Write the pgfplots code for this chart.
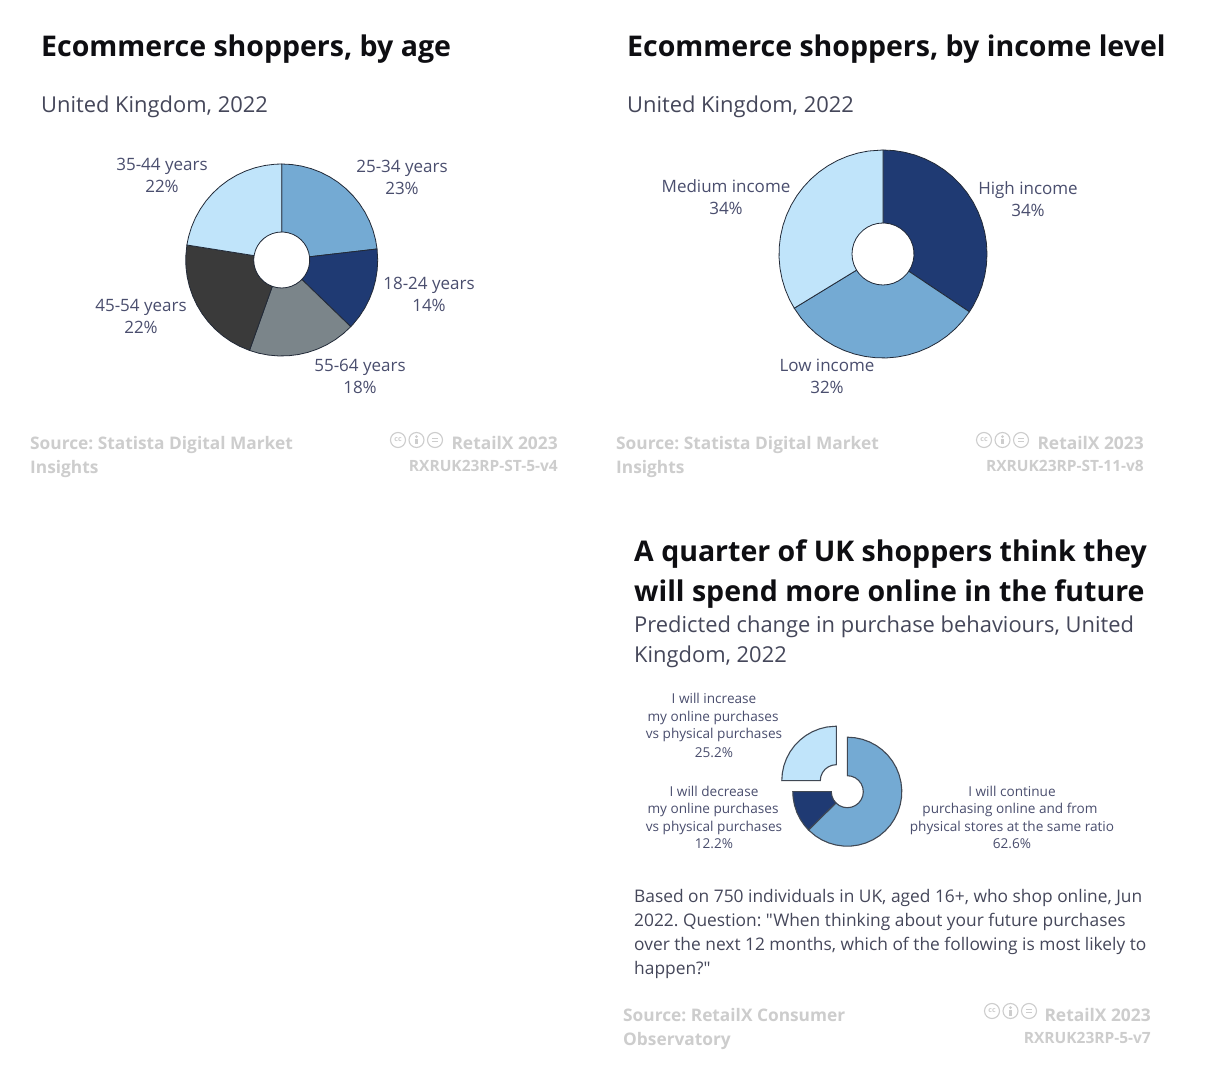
\documentclass[border=0pt]{standalone}
\usepackage{fontspec}
\setmainfont{Open Sans}
\newfontfamily\osQ{Open Sans}
\newcommand{\osS}{\bfseries}
\newcommand{\osL}{\normalfont}
\usepackage{pgfplots}
\usepgfplotslibrary{polar}
\pgfplotsset{compat=1.18}
\definecolor{cLight}{HTML}{C0E4FA}
\definecolor{cMid}{HTML}{74AAD3}
\definecolor{cNavy}{HTML}{1F3A73}
\definecolor{cChar}{HTML}{3A3A3A}
\definecolor{cGrey}{HTML}{7B858A}
\definecolor{cEdge}{HTML}{222A38}
\definecolor{cEdgeB}{HTML}{404854}
\definecolor{cText}{HTML}{4A4E6E}
\definecolor{cSrc}{HTML}{CDCDCD}
\definecolor{cTitle}{HTML}{0E0E12}
\definecolor{cSub}{HTML}{45475A}
\pgfplotsset{donut/.style={scale only axis,hide axis,clip=false,xmin=0,xmax=360,ymin=0,anchor=center}}
\newcommand{\TITLE}[3]{\node[anchor=base west,inner sep=0pt,text=cTitle] at (#1,{1079-#2}) {\fontsize{28.5}{36}\selectfont\osS #3};}
\newcommand{\SUB}[3]{\node[anchor=base west,inner sep=0pt,text=cSub] at (#1,{1079-#2}) {\fontsize{21.9}{30}\selectfont\osL #3};}
\newcommand{\LAB}[3]{\node[anchor=base,inner sep=0pt,text=cText] at (#1,{1079-#2}) {\fontsize{17}{20}\selectfont #3};}
\newcommand{\SM}[3]{\node[anchor=base,inner sep=0pt,text=cText] at (#1,{1079-#2}) {\fontsize{13.6}{18}\selectfont #3};}
\newcommand{\SRC}[3]{\node[anchor=base west,inner sep=0pt,text=cSrc] at (#1,{1079-#2}) {\fontsize{17.3}{24}\selectfont\osS #3};}
\newcommand{\NOTE}[2]{\node[anchor=base west,inner sep=0pt,text=cSub] at (634,#1) {\fontsize{17.35}{22}\selectfont\osQ #2};}
\newcommand{\CC}[2]{%
 \begin{scope}[shift={(#1,{1080-#2})},draw=cSrc,line width=1.1pt]
 \draw (0,0) circle (7.5pt);
 \node[text=cSrc,inner sep=0pt] at (0,0) {\fontsize{7}{7}\selectfont\osS cc};
 \draw (18.5pt,0) circle (7.5pt);
 \fill[cSrc] (18.5pt,3.4pt) circle (1.5pt);
 \fill[cSrc] (17pt,1.4pt) rectangle (20pt,-4.5pt);
 \draw (37pt,0) circle (7.5pt);
 \draw[line width=1pt] (34pt,1.5pt) -- (40pt,1.5pt) (34pt,-1.5pt) -- (40pt,-1.5pt);
 \end{scope}}
\newcommand{\MARK}[5]{%
 \CC{#1}{#2}
 \node[anchor=base east,inner sep=0pt,text=cSrc] at (#3,{1079-#4}) {\fontsize{17.4}{24}\selectfont\osS RetailX 2023};
 \node[anchor=base east,inner sep=0pt,text=cSrc] at (#3,{1079-#4-22}) {\fontsize{15.5}{20}\selectfont\osS #5};}
\begin{document}
\frenchspacing
\begin{tikzpicture}[x=1pt,y=1pt]
\fill[white] (0,0) rectangle (1227,1080);
\path[use as bounding box] (0,0) rectangle (1227,1080);

%% ---------- chart 1 ----------
\begin{polaraxis}[donut,at={(281.7pt,820pt)},width=192pt,height=192pt,ymax=96]
\addplot[fill=cMid,draw=cEdge,line width=0.8pt] coordinates {(90,96)(84,96)(78,96)(72,96)(66,96)(60,96)(54,96)(48,96)(42,96)(36,96)(30,96)(24,96)(18,96)(12,96)(6.6,96)
 (6.6,28)(16,28)(26,28)(36,28)(46,28)(56,28)(66,28)(76,28)(86,28)(90,28)} -- cycle;
\addplot[fill=cNavy,draw=cEdge,line width=0.8pt] coordinates {(6.6,96)(0,96)(-6,96)(-12,96)(-18,96)(-24,96)(-30,96)(-36,96)(-42,96)(-44,96)
 (-44,28)(-34,28)(-24,28)(-14,28)(-4,28)(6.6,28)} -- cycle;
\addplot[fill=cGrey,draw=cEdge,line width=0.8pt] coordinates {(-44,96)(-50,96)(-56,96)(-62,96)(-68,96)(-74,96)(-80,96)(-86,96)(-92,96)(-98,96)(-104,96)(-109.6,96)
 (-109.6,28)(-100,28)(-90,28)(-80,28)(-70,28)(-60,28)(-50,28)(-44,28)} -- cycle;
\addplot[fill=cChar,draw=cEdge,line width=0.8pt] coordinates {(-109.6,96)(-116,96)(-122,96)(-128,96)(-134,96)(-140,96)(-146,96)(-152,96)(-158,96)(-164,96)(-170,96)(-176,96)(-182,96)(-189,96)
 (-189,28)(-180,28)(-170,28)(-160,28)(-150,28)(-140,28)(-130,28)(-120,28)(-109.6,28)} -- cycle;
\addplot[fill=cLight,draw=cEdge,line width=0.8pt] coordinates {(-189,96)(-194,96)(-200,96)(-206,96)(-212,96)(-218,96)(-224,96)(-230,96)(-236,96)(-242,96)(-248,96)(-254,96)(-260,96)(-266,96)(-270,96)
 (-270,28)(-260,28)(-250,28)(-240,28)(-230,28)(-220,28)(-210,28)(-200,28)(-189,28)} -- cycle;
\end{polaraxis}

%% ---------- chart 2 ----------
\begin{polaraxis}[donut,at={(883pt,826pt)},width=208pt,height=208pt,ymax=104]
\addplot[fill=cNavy,draw=cEdge,line width=0.8pt] coordinates {(90,104)(84,104)(78,104)(72,104)(66,104)(60,104)(54,104)(48,104)(42,104)(36,104)(30,104)(24,104)(18,104)(12,104)(6,104)(0,104)(-6,104)(-12,104)(-18,104)(-24,104)(-30,104)(-33.8,104)
 (-33.8,31)(-24,31)(-14,31)(-4,31)(6,31)(16,31)(26,31)(36,31)(46,31)(56,31)(66,31)(76,31)(86,31)(90,31)} -- cycle;
\addplot[fill=cMid,draw=cEdge,line width=0.8pt] coordinates {(-33.8,104)(-40,104)(-46,104)(-52,104)(-58,104)(-64,104)(-70,104)(-76,104)(-82,104)(-88,104)(-94,104)(-100,104)(-106,104)(-112,104)(-118,104)(-124,104)(-130,104)(-136,104)(-142,104)(-148.6,104)
 (-148.6,31)(-140,31)(-130,31)(-120,31)(-110,31)(-100,31)(-90,31)(-80,31)(-70,31)(-60,31)(-50,31)(-40,31)(-33.8,31)} -- cycle;
\addplot[fill=cLight,draw=cEdge,line width=0.8pt] coordinates {(-148.6,104)(-154,104)(-160,104)(-166,104)(-172,104)(-178,104)(-184,104)(-190,104)(-196,104)(-202,104)(-208,104)(-214,104)(-220,104)(-226,104)(-232,104)(-238,104)(-244,104)(-250,104)(-256,104)(-262,104)(-270,104)
 (-270,31)(-260,31)(-250,31)(-240,31)(-230,31)(-220,31)(-210,31)(-200,31)(-190,31)(-180,31)(-170,31)(-160,31)(-148.6,31)} -- cycle;
\end{polaraxis}

%% ---------- chart 3 ----------
\begin{polaraxis}[donut,at={(847.3pt,288.3pt)},width=109pt,height=109pt,ymax=54.5]
\addplot[fill=cMid,draw=cEdgeB,line width=1.1pt] coordinates {(90,54.5)(82,54.5)(74,54.5)(66,54.5)(58,54.5)(50,54.5)(42,54.5)(34,54.5)(26,54.5)(18,54.5)(10,54.5)(2,54.5)(-6,54.5)(-14,54.5)(-22,54.5)(-30,54.5)(-38,54.5)(-46,54.5)(-54,54.5)(-62,54.5)(-70,54.5)(-78,54.5)(-86,54.5)(-94,54.5)(-102,54.5)(-110,54.5)(-118,54.5)(-126,54.5)(-135.4,54.5)
 (-135.4,16)(-120,16)(-105,16)(-90,16)(-75,16)(-60,16)(-45,16)(-30,16)(-15,16)(0,16)(15,16)(30,16)(45,16)(60,16)(75,16)(90,16)} -- cycle;
\addplot[fill=cNavy,draw=cEdgeB,line width=1.1pt] coordinates {(-135.4,54.5)(-142,54.5)(-150,54.5)(-158,54.5)(-166,54.5)(-174,54.5)(-180,54.5)
 (-180,16)(-165,16)(-150,16)(-135.4,16)} -- cycle;
\addplot[fill=cLight,draw=cEdgeB,line width=1.1pt,xshift=-11pt,yshift=11pt] coordinates {(180,54.5)(172,54.5)(164,54.5)(156,54.5)(148,54.5)(140,54.5)(132,54.5)(124,54.5)(116,54.5)(108,54.5)(100,54.5)(90,54.5)
 (90,16)(105,16)(120,16)(135,16)(150,16)(165,16)(180,16)} -- cycle;
\end{polaraxis}

%% ---------- text ----------
\TITLE{41}{56}{Ecommerce shoppers, by age}
\SUB{41}{112}{United Kingdom, 2022}
\LAB{162}{170}{35-44 years}\LAB{162}{192}{22\%}
\LAB{402}{172}{25-34 years}\LAB{402}{194}{23\%}
\LAB{429}{289}{18-24 years}\LAB{429}{311}{14\%}
\LAB{360}{371}{55-64 years}\LAB{360}{393}{18\%}
\LAB{141}{311}{45-54 years}\LAB{141}{333}{22\%}
\SRC{30}{449}{Source: Statista Digital Market}
\SRC{30}{473}{Insights}
\MARK{398}{440}{558}{449}{RXRUK23RP-ST-5-v4}

\TITLE{627}{56}{Ecommerce shoppers, by income level}
\SUB{627}{112}{United Kingdom, 2022}
\LAB{726}{192}{Medium income}\LAB{726}{214}{34\%}
\LAB{1028}{194}{High income}\LAB{1028}{216}{34\%}
\LAB{827}{371}{Low income}\LAB{827}{393}{32\%}
\SRC{616}{449}{Source: Statista Digital Market}
\SRC{616}{473}{Insights}
\MARK{984}{440}{1144}{449}{RXRUK23RP-ST-11-v8}

\TITLE{634}{561}{A quarter of UK shoppers think they}
\TITLE{634}{601}{will spend more online in the future}
\SUB{634}{632}{Predicted change in purchase behaviours, United}
\SUB{634}{662}{Kingdom, 2022}
\SM{714}{703}{I will increase}\SM{713}{721}{my online purchases}\SM{714}{738}{vs physical purchases}\SM{714}{757}{25.2\%}
\SM{714}{796}{I will decrease}\SM{713}{813}{my online purchases}\SM{714}{831}{vs physical purchases}\SM{714}{848}{12.2\%}
\SM{1012}{796}{I will continue}\SM{1010}{813}{purchasing online and from}\SM{1012}{831}{physical stores at the same ratio}\SM{1012}{848}{62.6\%}
\NOTE{177.5}{Based on 750 individuals in UK, aged 16+, who shop online, Jun}
\NOTE{153.5}{2022. Question: "When thinking about your future purchases}
\NOTE{129.5}{over the next 12 months, which of the following is most likely to}
\NOTE{105.5}{happen?"}
\SRC{623}{1020}{Source: RetailX Consumer}
\SRC{623}{1044}{Observatory}
\MARK{992}{1011}{1151}{1020}{RXRUK23RP-5-v7}
\end{tikzpicture}
\end{document}
